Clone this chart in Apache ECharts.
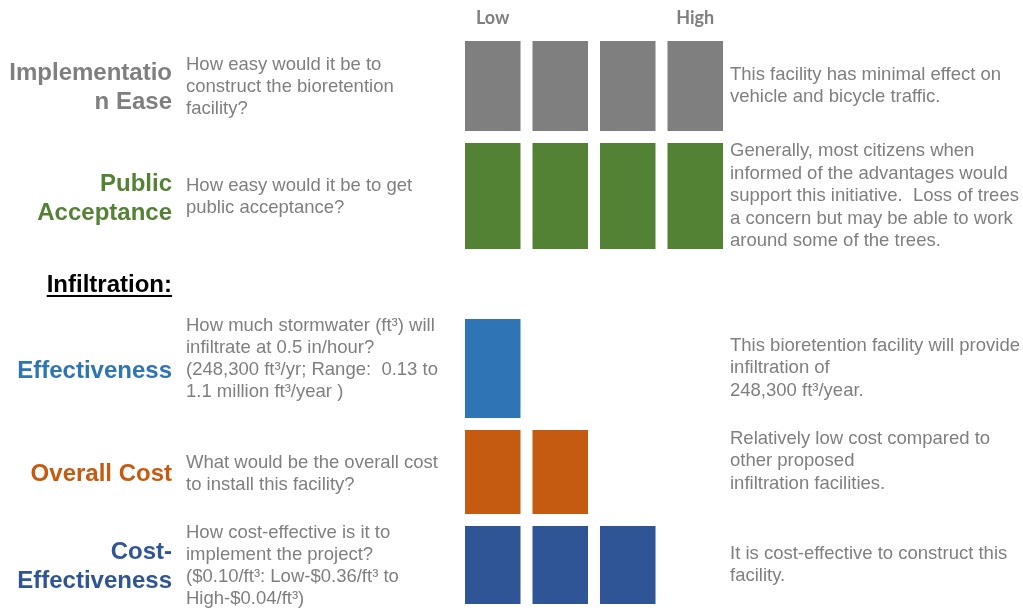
<!DOCTYPE html>
<html>
<head>
<meta charset="utf-8">
<title>Bioretention facility scorecard</title>
<script src="https://cdn.jsdelivr.net/npm/echarts@6/dist/echarts.min.js"></script>
<style>
  html, body { margin: 0; padding: 0; background: #ffffff; }
  #chart { width: 1023px; height: 614px; }
</style>
</head>
<body>
<div id="chart"></div>
<script>
// ---- Data ----
const levels = ['Low', '', '', 'High'];
const criteria = ['Implementation Ease', 'Public Acceptance', 'Effectiveness', 'Overall Cost', 'Cost-Effectiveness'];
const criteriaLabels = ['Implementatio\nn Ease', 'Public\nAcceptance', 'Effectiveness', 'Overall Cost', 'Cost-\nEffectiveness'];
const scores = [4, 4, 1, 2, 3];
const questions = [
  'How easy would it be to\nconstruct the bioretention\nfacility?',
  'How easy would it be to get\npublic acceptance?',
  'How much stormwater (ft³) will\ninfiltrate at 0.5 in/hour?\n(248,300 ft³/yr; Range:  0.13 to\n1.1 million ft³/year )',
  'What would be the overall cost\nto install this facility?',
  'How cost-effective is it to\nimplement the project?\n($0.10/ft³: Low-$0.36/ft³ to\nHigh-$0.04/ft³)'
];
const comments = [
  'This facility has minimal effect on\nvehicle and bicycle traffic.',
  'Generally, most citizens when\ninformed of the advantages would\nsupport this initiative.  Loss of trees\na concern but may be able to work\naround some of the trees.',
  'This bioretention facility will provide\ninfiltration of\n248,300 ft³/year.',
  'Relatively low cost compared to\nother proposed\ninfiltration facilities.',
  'It is cost-effective to construct this\nfacility.'
];
const sectionHeading = 'Infiltration:';

// ---- Layout & style ----
const rowColors = ['#7f7f7f', '#548235', '#2e75b6', '#c55a11', '#2f5597'];
const rowBands = [[41, 131], [143, 249], [319, 418], [430, 514], [526, 604]];
const labelY = [88, 199, 371, 474, 567];
const questionY = [87, 197, 359, 474, 566];
const commentY = [86, 196, 368, 461, 565];
const headingY = 285;
const gridLeft = 459, gridWidth = 270, blockWidth = 55.5;
const labelRight = 172, questionLeft = 186, commentLeft = 730;
const textGray = '#7f7f7f';
const sans = '"Liberation Sans", Arial, sans-serif';

const grids = [], xAxes = [], yAxes = [], series = [], graphics = [];

rowBands.forEach(function (band, i) {
  grids.push({ left: gridLeft, width: gridWidth, top: band[0], height: band[1] - band[0] });
  xAxes.push({
    type: 'category', gridIndex: i, data: levels,
    position: 'top',
    axisLine: { show: false }, axisTick: { show: false }, splitLine: { show: false },
    axisLabel: {
      show: i === 0, interval: 0, margin: 14,
      color: textGray, fontFamily: 'Lato, "Open Sans", sans-serif', fontWeight: 'bold', fontSize: 18
    }
  });
  yAxes.push({ type: 'value', gridIndex: i, min: 0, max: 1, show: false });
  series.push({
    name: criteria[i], type: 'bar', xAxisIndex: i, yAxisIndex: i,
    barWidth: blockWidth, silent: true,
    itemStyle: { color: rowColors[i] },
    data: levels.map(function (_, k) { return k < scores[i] ? 1 : '-'; })
  });

  // Criterion name, right aligned
  graphics.push({
    type: 'text', x: labelRight, y: labelY[i],
    style: {
      text: criteriaLabels[i], fill: rowColors[i],
      fontFamily: sans, fontWeight: 'bold', fontSize: 24, lineHeight: 28.5,
      align: 'right', verticalAlign: 'middle'
    }
  });
  // Guiding question
  graphics.push({
    type: 'text', x: questionLeft, y: questionY[i],
    style: {
      text: questions[i], fill: textGray,
      fontFamily: sans, fontSize: 18.5, lineHeight: 22,
      align: 'left', verticalAlign: 'middle'
    }
  });
  // Assessment comment
  graphics.push({
    type: 'text', x: commentLeft, y: commentY[i],
    style: {
      text: comments[i], fill: textGray,
      fontFamily: sans, fontSize: 18.5, lineHeight: 22.5,
      align: 'left', verticalAlign: 'middle'
    }
  });
});

// Section heading with underline
const measure = document.createElement('canvas').getContext('2d');
measure.font = 'bold 24px ' + sans;
const headingWidth = measure.measureText(sectionHeading).width;
graphics.push({
  type: 'text', x: labelRight, y: headingY,
  style: {
    text: sectionHeading, fill: '#000000',
    fontFamily: sans, fontWeight: 'bold', fontSize: 24,
    align: 'right', verticalAlign: 'middle'
  }
});
graphics.push({
  type: 'line',
  shape: { x1: labelRight - headingWidth, y1: headingY + 11, x2: labelRight, y2: headingY + 11 },
  style: { stroke: '#000000', lineWidth: 2 }
});

const chart = echarts.init(document.getElementById('chart'), null, { renderer: 'canvas' });
chart.setOption({
  animation: false,
  backgroundColor: '#ffffff',
  grid: grids,
  xAxis: xAxes,
  yAxis: yAxes,
  series: series,
  graphic: graphics
});
</script>
</body>
</html>
